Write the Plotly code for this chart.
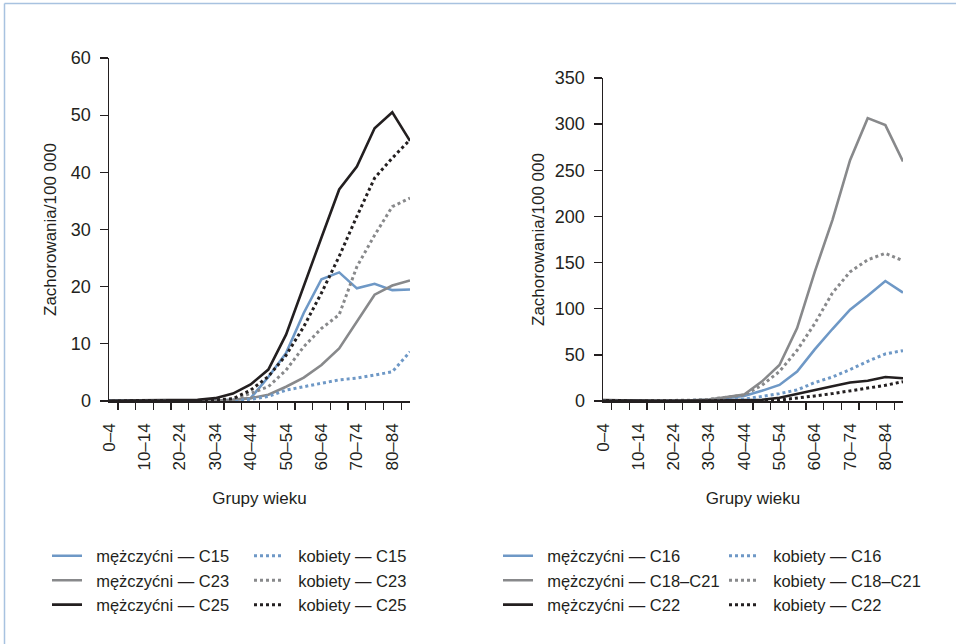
import plotly.graph_objects as go

# ---------------- data ----------------
age_groups = ["0–4", "5–9", "10–14", "15–19", "20–24", "25–29", "30–34", "35–39",
              "40–44", "45–49", "50–54", "55–59", "60–64", "65–69", "70–74",
              "75–79", "80–84", "85+"]
tick_labels = [g if i % 2 == 0 else "" for i, g in enumerate(age_groups)]

# Left panel (rate per 100 000)
men_C15 = [0.0, 0.0, 0.0, 0.0, 0.0, 0.0, 0.1, 0.2, 0.5, 4.2, 8.4, 15.4, 21.3, 22.5, 19.7, 20.5, 19.4, 19.5]
men_C23 = [0.0, 0.0, 0.0, 0.0, 0.0, 0.0, 0.1, 0.2, 0.5, 1.1, 2.5, 4.1, 6.3, 9.2, 13.9, 18.6, 20.2, 21.1]
men_C25 = [0.1, 0.1, 0.1, 0.1, 0.1, 0.2, 0.5, 1.3, 2.9, 5.5, 11.6, 20.2, 28.6, 37.0, 41.0, 47.7, 50.5, 45.5]
women_C15 = [0.0, 0.0, 0.0, 0.0, 0.0, 0.0, 0.0, 0.1, 0.3, 0.8, 1.9, 2.5, 3.2, 3.7, 4.0, 4.5, 5.1, 8.6]
women_C23 = [0.0, 0.0, 0.0, 0.0, 0.0, 0.0, 0.1, 0.2, 1.3, 2.5, 5.4, 9.5, 12.7, 15.1, 23.5, 29.0, 34.0, 35.5]
women_C25 = [0.0, 0.0, 0.0, 0.0, 0.0, 0.1, 0.2, 0.4, 1.9, 4.3, 8.0, 13.0, 18.9, 25.3, 32.3, 39.0, 42.5, 45.7]

# Right panel (rate per 100 000)
men_C16 = [0.0, 0.0, 0.0, 0.1, 0.2, 0.5, 1.2, 3.0, 5.5, 11.0, 17.4, 32.0, 56.0, 78.0, 99.0, 114.0, 130.0, 117.5]
men_C18_21 = [0.1, 0.1, 0.1, 0.2, 0.4, 0.7, 1.5, 4.0, 7.0, 21.0, 39.0, 79.0, 140.0, 196.0, 261.0, 306.5, 299.0, 259.5]
men_C22 = [0.9, 0.4, 0.2, 0.2, 0.3, 0.4, 0.6, 0.8, 1.0, 1.3, 3.6, 8.0, 12.0, 16.0, 20.0, 22.0, 26.0, 24.6]
women_C16 = [0.0, 0.0, 0.0, 0.1, 0.2, 0.4, 0.8, 1.2, 2.0, 5.0, 8.0, 12.0, 20.0, 26.0, 34.0, 43.0, 51.0, 54.6]
women_C18_21 = [0.1, 0.1, 0.1, 0.2, 0.4, 0.8, 1.8, 4.0, 6.5, 17.0, 32.0, 55.0, 84.0, 117.0, 140.0, 153.0, 160.0, 152.0]
women_C22 = [0.1, 0.1, 0.1, 0.1, 0.1, 0.1, 0.1, 0.2, 0.3, 0.5, 1.0, 3.0, 5.5, 8.0, 11.0, 14.0, 17.0, 21.0]

left_ticks = [0, 10, 20, 30, 40, 50, 60]
right_ticks = [0, 50, 100, 150, 200, 250, 300, 350]

# ---------------- style ----------------
W, H = 956, 644
FONT = "Liberation Sans, Arial, sans-serif"
FS = 17
YFS = 18
LFS = 16.5
BLUE = "#6e98c6"
GRAY = "#88898b"
BLACK = "#231f20"
AXIS = "#231f20"

def px(x):
    return x / W

def py(y):
    return 1 - y / H

fig = go.Figure()

def add(y, name, color, dash, xa, ya, legend):
    fig.add_trace(go.Scatter(
        x=age_groups, y=y, name=name, mode="lines",
        line=dict(color=color, width=2.6 if dash == "solid" else 3, dash=dash),
        xaxis=xa, yaxis=ya, legend=legend, hoverinfo="skip"))

add(men_C15, "  mężczyćni — C15", BLUE, "solid", "x", "y", "legend")
add(men_C23, "  mężczyćni — C23", GRAY, "solid", "x", "y", "legend")
add(men_C25, "  mężczyćni — C25", BLACK, "solid", "x", "y", "legend")
add(women_C15, "  kobiety — C15", BLUE, "dot", "x", "y", "legend2")
add(women_C23, "  kobiety — C23", GRAY, "dot", "x", "y", "legend2")
add(women_C25, "  kobiety — C25", BLACK, "dot", "x", "y", "legend2")

add(men_C16, "  mężczyćni — C16", BLUE, "solid", "x2", "y2", "legend3")
add(men_C18_21, "  mężczyćni — C18–C21", GRAY, "solid", "x2", "y2", "legend3")
add(men_C22, "  mężczyćni — C22", BLACK, "solid", "x2", "y2", "legend3")
add(women_C16, "  kobiety — C16", BLUE, "dot", "x2", "y2", "legend4")
add(women_C18_21, "  kobiety — C18–C21", GRAY, "dot", "x2", "y2", "legend4")
add(women_C22, "  kobiety — C22", BLACK, "dot", "x2", "y2", "legend4")

xaxis_common = dict(
    type="category", categoryorder="array", categoryarray=age_groups,
    tickmode="array", tickvals=age_groups, ticktext=tick_labels,
    tickson="boundaries", ticks="outside", ticklen=7, tickwidth=1.3, tickcolor=AXIS,
    tickangle=-90, showline=True, linecolor=AXIS, linewidth=1.5,
    showgrid=False, zeroline=False, automargin=False,
    tickfont=dict(family=FONT, size=FS, color=BLACK),
    title=dict(text="Grupy wieku", font=dict(family=FONT, size=FS, color=BLACK), standoff=22),
    ticklabelstandoff=14, fixedrange=True,
)
yaxis_common = dict(
    tickmode="array", ticks="outside", ticklen=8, tickwidth=1.3, tickcolor=AXIS,
    showline=True, linecolor=AXIS, linewidth=1.5, showgrid=False, zeroline=False,
    automargin=False, tickfont=dict(family=FONT, size=YFS, color=BLACK),
    ticklabelstandoff=5, fixedrange=True,
)

def ytitle(standoff):
    return dict(text="Zachorowania/100 000", font=dict(family=FONT, size=FS, color=BLACK), standoff=standoff)

legend_common = dict(
    orientation="v", xanchor="left", yanchor="top",
    font=dict(family=FONT, size=LFS, color=BLACK),
    bgcolor="rgba(0,0,0,0)", borderwidth=0, tracegroupgap=0, itemclick=False,
)

fig.update_layout(
    width=W, height=H,
    margin=dict(l=0, r=0, t=0, b=0),
    paper_bgcolor="white", plot_bgcolor="white",
    font=dict(family=FONT, size=FS, color=BLACK),
    showlegend=True,
    xaxis=dict(domain=[px(109), px(410)], anchor="y", **xaxis_common),
    yaxis=dict(domain=[py(401), py(58)], anchor="x", range=[0, 60], tickvals=left_ticks,
               title=ytitle(10), **yaxis_common),
    xaxis2=dict(domain=[px(603), px(903)], anchor="y2", **xaxis_common),
    yaxis2=dict(domain=[py(401), py(78)], anchor="x2", range=[0, 350], tickvals=right_ticks,
                title=ytitle(6), **yaxis_common),
    legend=dict(x=px(47), y=py(538.5), **legend_common),
    legend2=dict(x=px(249), y=py(538.5), **legend_common),
    legend3=dict(x=px(498), y=py(538.5), **legend_common),
    legend4=dict(x=px(724), y=py(538.5), **legend_common),
    shapes=[
        dict(type="line", xref="paper", yref="paper", x0=px(4.5), x1=px(4.5), y0=0, y1=py(3.5),
             line=dict(color="#a8c2e0", width=1.5)),
        dict(type="line", xref="paper", yref="paper", x0=px(4.5), x1=1, y0=py(3.5), y1=py(3.5),
             line=dict(color="#a8c2e0", width=1.5)),
    ],
)

fig.write_html("out.html",
               config={"displayModeBar": False, "staticPlot": True},
               post_script="document.body.style.margin='0px';document.body.style.overflow='hidden';")
